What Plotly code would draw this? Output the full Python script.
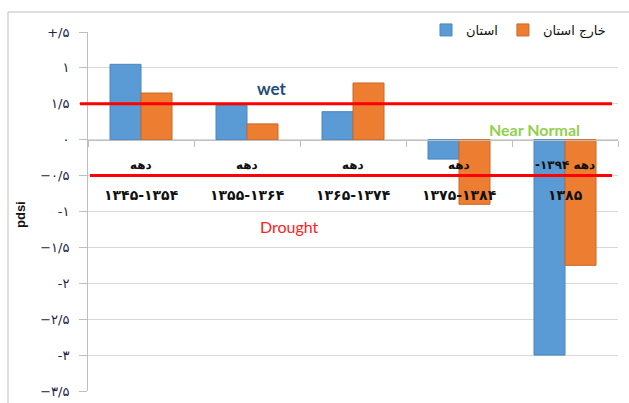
import plotly.graph_objects as go

# Decades (category keys) and the two-line labels shown under the zero line
decades = ["۱۳۴۵-۱۳۵۴", "۱۳۵۵-۱۳۶۴", "۱۳۶۵-۱۳۷۴", "۱۳۷۵-۱۳۸۴", "۱۳۸۵"]
label_top = ["دهه", "دهه", "دهه", "دهه", "-۱۳۹۴ دهه"]

# PDSI averages per decade
ostan = [1.05, 0.48, 0.39, -0.27, -3.0]          # استان
kharej_ostan = [0.65, 0.22, 0.79, -0.9, -1.75]   # خارج استان

# Class thresholds
wet_threshold = 0.5
drought_threshold = -0.5

# Y axis ticks with their printed labels
y_ticks = [1.5, 1, 0.5, 0, -0.5, -1, -1.5, -2, -2.5, -3, -3.5]
y_tick_text = ["+/۵", "۱", "۱/۵", "۰", "−۰/۵", "-۱", "−۱/۵", "-۲", "−۲/۵", "-۳", "−۳/۵"]

W, H = 629, 403
L, R, T, B = 88, 11, 32, 12
pw, ph = W - L - R, H - T - B


def px(x):
    return (x - L) / pw


def py(y):
    return (H - B - y) / ph


fig = go.Figure()
fig.add_trace(go.Bar(
    x=decades, y=ostan, name="استان",
    marker=dict(color="#5b9bd5", line=dict(color="#4a86bf", width=1)),
))
fig.add_trace(go.Bar(
    x=decades, y=kharej_ostan, name="خارج استان",
    marker=dict(color="#ed7d31", line=dict(color="#c9682a", width=1)),
))

base_font = "DejaVu Sans"


def note(x, y, text, font, xref="paper", **kw):
    return dict(x=x, y=y, xref=xref, yref="paper", text=text, showarrow=False,
                xanchor="center", yanchor="middle", font=font, **kw)


annotations = []
for d, t in zip(decades, label_top):
    annotations.append(note(d, py(165), "<b>" + t + "</b>",
                            dict(family=base_font, size=12, color="#111"), xref="x"))
    annotations.append(note(d, py(195), "<b>" + d + "</b>",
                            dict(family=base_font, size=14, color="#111"), xref="x"))

annotations += [
    note(px(271), py(88), "<b>wet</b>", dict(family="Lato", size=17, color="#1f4e79")),
    note(px(534), py(129), "<b>Near Normal</b>", dict(family="Lato", size=16, color="#92d050")),
    note(px(289), py(226), "Drought", dict(family="Lato", size=16, color="#ff2020")),
    note(px(20), py(215), "<b>pdsi</b>", dict(family="Liberation Sans", size=13, color="#111"),
         textangle=-90),
]

shapes = [
    # chart frame
    dict(type="rect", xref="paper", yref="paper", x0=px(8), x1=px(640), y0=py(410), y1=py(12),
         line=dict(color="#bfbfbf", width=1), layer="below"),
    # threshold lines
    dict(type="line", xref="paper", yref="y", x0=px(80), x1=px(612),
         y0=wet_threshold, y1=wet_threshold, line=dict(color="#ff0000", width=3)),
    dict(type="line", xref="paper", yref="y", x0=px(90), x1=px(612),
         y0=drought_threshold, y1=drought_threshold, line=dict(color="#ff0000", width=3)),
]

fig.update_layout(
    width=W, height=H,
    margin=dict(l=L, r=R, t=T, b=B, pad=0, autoexpand=False),
    paper_bgcolor="white", plot_bgcolor="white",
    barmode="group", bargap=0.415, bargroupgap=0,
    font=dict(family=base_font, size=13, color="#222244"),
    showlegend=True,
    legend=dict(orientation="h", x=px(611), xanchor="right", y=py(30), yanchor="middle",
                bgcolor="white", font=dict(family=base_font, size=13, color="#111"),
                itemwidth=30, tracegroupgap=0, itemclick=False),
    xaxis=dict(
        type="category", showgrid=False, showticklabels=False, automargin=False,
        showline=True, linecolor="#bfbfbf", linewidth=1,
        anchor="free", position=py(139.5),
        ticks="outside", tickson="boundaries", ticklen=6, tickcolor="#bfbfbf",
        fixedrange=True,
    ),
    yaxis=dict(
        range=[-3.5, 1.5], tickvals=y_ticks, ticktext=y_tick_text, automargin=False,
        showgrid=True, gridcolor="#d9d9d9", gridwidth=1, zeroline=False,
        showline=True, linecolor="#bfbfbf", linewidth=1,
        ticks="outside", ticklen=8, tickcolor="#bfbfbf", ticklabelstandoff=7,
        tickfont=dict(family=base_font, size=13, color="#222244"),
        fixedrange=True,
    ),
    annotations=annotations,
    shapes=shapes,
)

fig.write_html("out.html")
